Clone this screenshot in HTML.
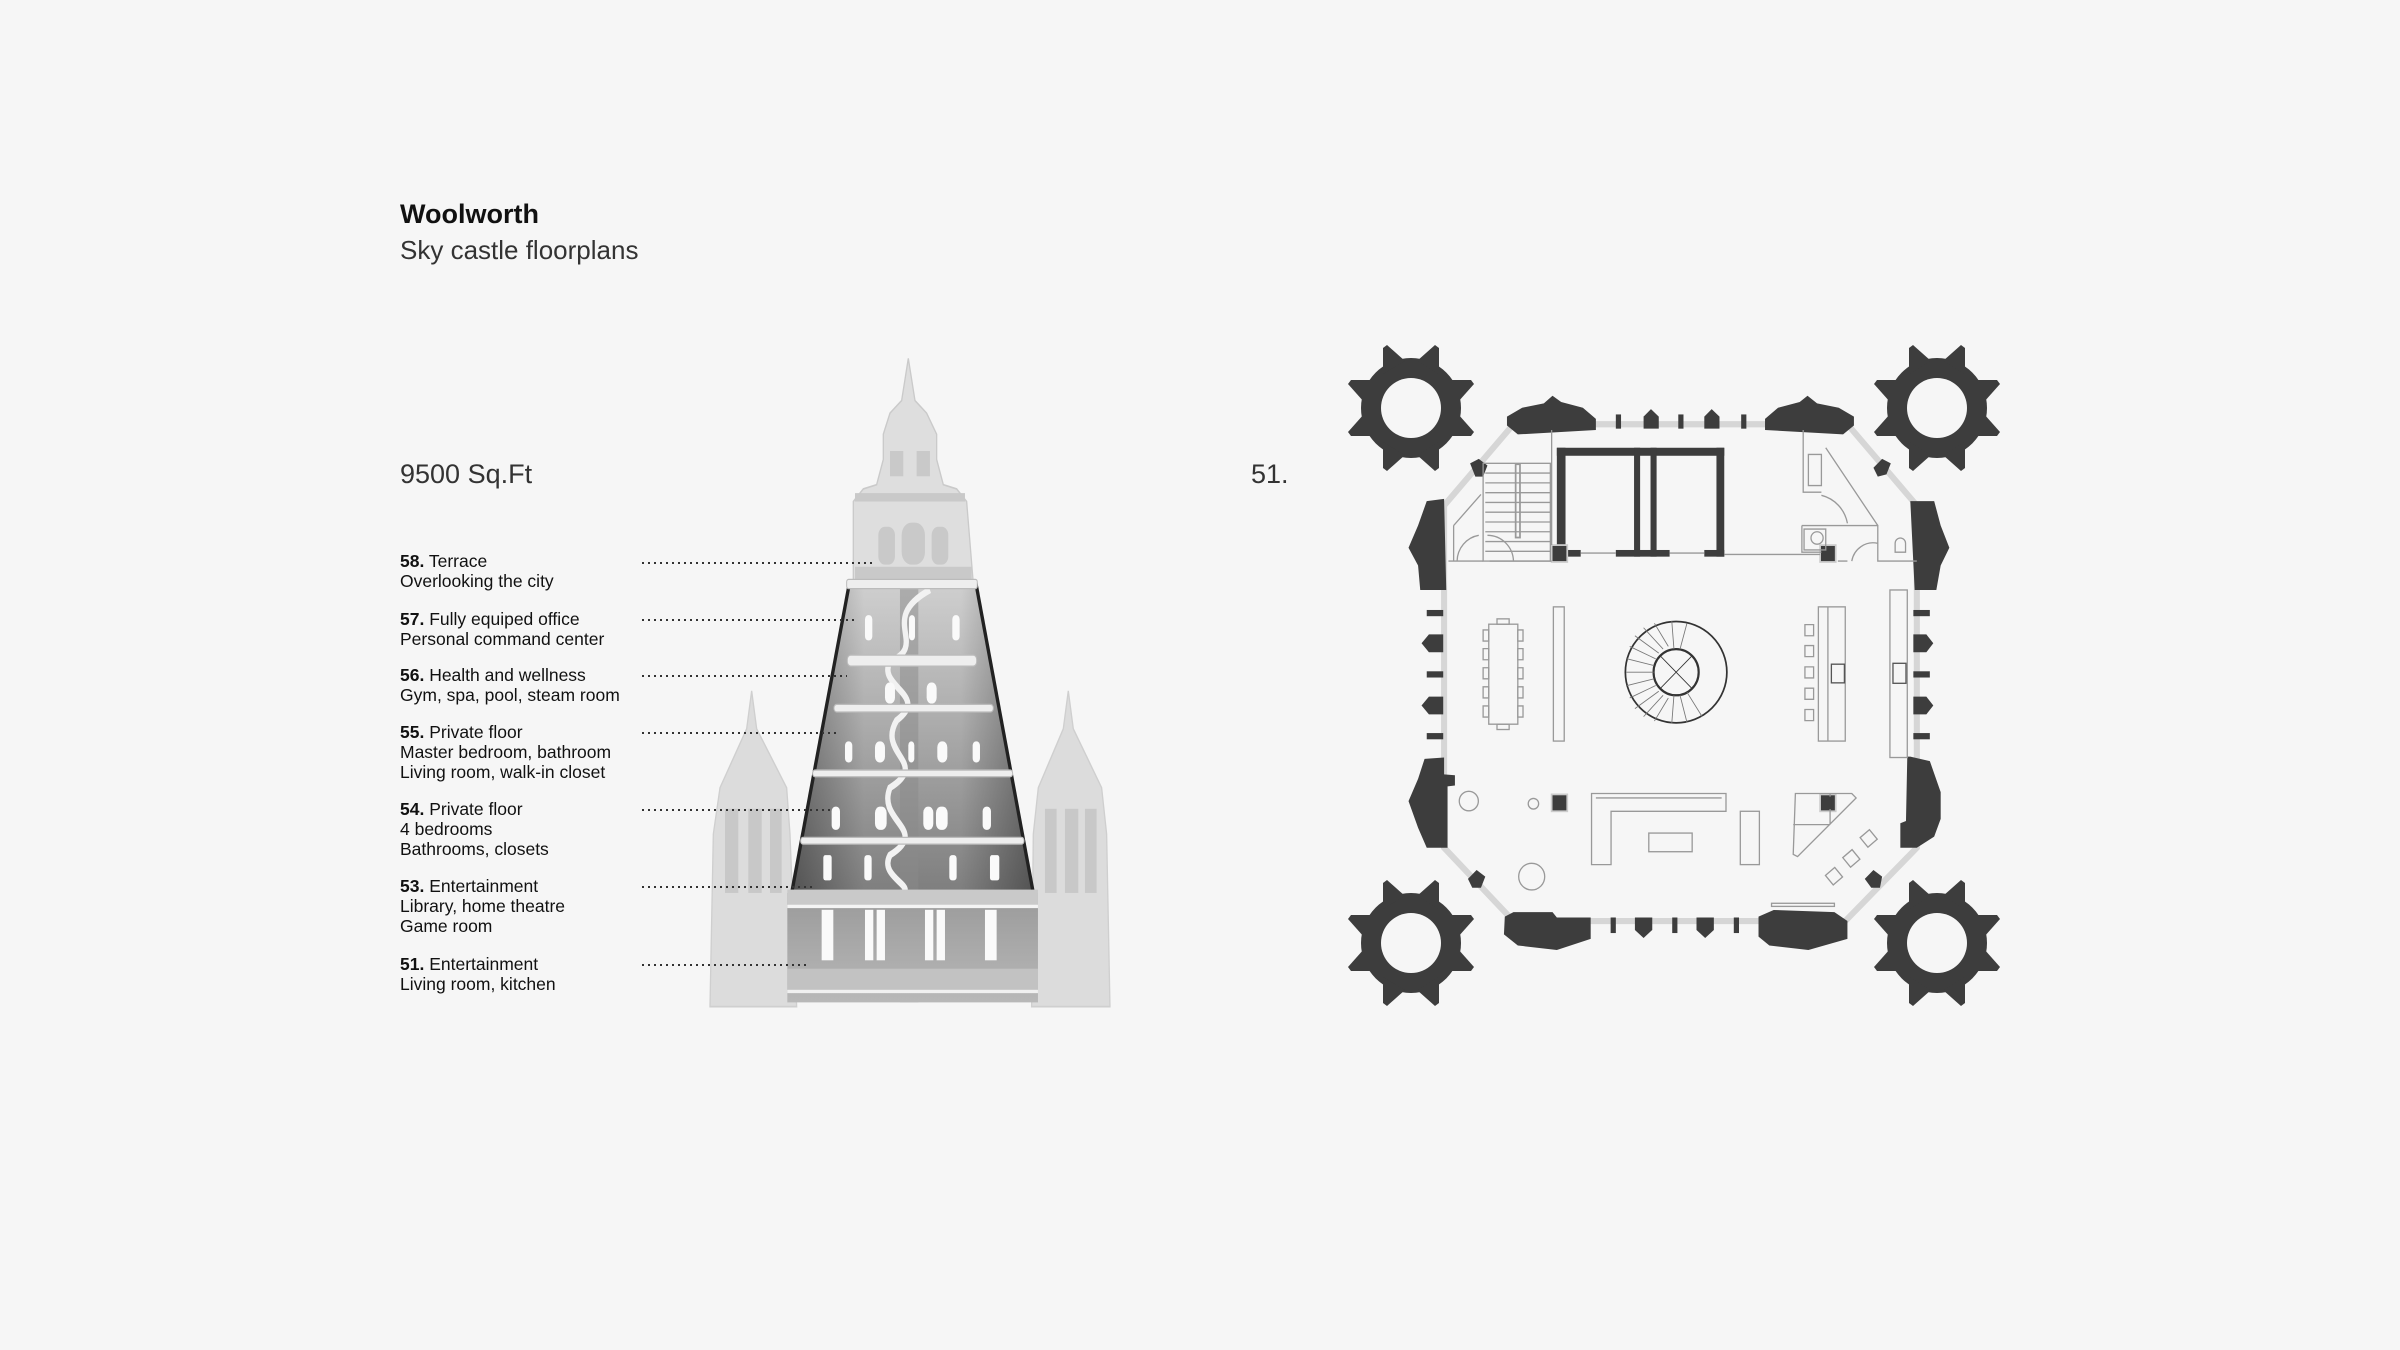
<!DOCTYPE html>
<html><head><meta charset="utf-8">
<style>
html,body{margin:0;padding:0;background:#f6f6f6;}
svg{display:block}
text{font-family:"Liberation Sans","DejaVu Sans",sans-serif;fill:#111}
</style></head>
<body>
<svg width="2400" height="1350" viewBox="0 0 2400 1350" xmlns="http://www.w3.org/2000/svg">
<defs>
<linearGradient id="body" x1="0" y1="0" x2="0" y2="1">
<stop offset="0" stop-color="#cfcfcf"/><stop offset="0.45" stop-color="#acacac"/><stop offset="1" stop-color="#7e7e7e"/>
</linearGradient>
<linearGradient id="bodyx" x1="0" y1="0" x2="1" y2="0">
<stop offset="0" stop-color="#000" stop-opacity="0.35"/><stop offset="0.3" stop-color="#000" stop-opacity="0"/><stop offset="0.7" stop-color="#000" stop-opacity="0"/><stop offset="1" stop-color="#000" stop-opacity="0.35"/>
</linearGradient>
<linearGradient id="base" x1="0" y1="0" x2="0" y2="1">
<stop offset="0" stop-color="#9a9a9a"/><stop offset="1" stop-color="#b8b8b8"/>
</linearGradient>
<g id="gear">
<circle r="50" fill="#3d3d3d"/>
<g fill="#3d3d3d">
<polygon points="-28,-34 -28,-60 -24,-63 -6,-47"/>
<polygon points="28,-34 28,-60 24,-63 6,-47"/>
<g transform="rotate(90)"><polygon points="-28,-34 -28,-60 -24,-63 -6,-47"/><polygon points="28,-34 28,-60 24,-63 6,-47"/></g>
<g transform="rotate(180)"><polygon points="-28,-34 -28,-60 -24,-63 -6,-47"/><polygon points="28,-34 28,-60 24,-63 6,-47"/></g>
<g transform="rotate(270)"><polygon points="-28,-34 -28,-60 -24,-63 -6,-47"/><polygon points="28,-34 28,-60 24,-63 6,-47"/></g>
</g>
<circle r="30" fill="#f6f6f6"/>
</g>
</defs>

<text x="400" y="223" font-size="27" font-weight="bold">Woolworth</text>
<text x="400" y="259" font-size="26" style="fill:#333">Sky castle floorplans</text>
<text x="400" y="483" font-size="27" style="fill:#333">9500 Sq.Ft</text>
<text x="1251" y="483" font-size="27" style="fill:#333">51.</text>

<g font-size="17.5">
<text x="400" y="567"><tspan font-weight="bold">58.</tspan> Terrace</text>
<text x="400" y="587">Overlooking the city</text>
<text x="400" y="625"><tspan font-weight="bold">57.</tspan> Fully equiped office</text>
<text x="400" y="645">Personal command center</text>
<text x="400" y="681"><tspan font-weight="bold">56.</tspan> Health and wellness</text>
<text x="400" y="701">Gym, spa, pool, steam room</text>
<text x="400" y="738"><tspan font-weight="bold">55.</tspan> Private floor</text>
<text x="400" y="758">Master bedroom, bathroom</text>
<text x="400" y="778">Living room, walk-in closet</text>
<text x="400" y="815"><tspan font-weight="bold">54.</tspan> Private floor</text>
<text x="400" y="835">4 bedrooms</text>
<text x="400" y="855">Bathrooms, closets</text>
<text x="400" y="892"><tspan font-weight="bold">53.</tspan> Entertainment</text>
<text x="400" y="912">Library, home theatre</text>
<text x="400" y="932">Game room</text>
<text x="400" y="970"><tspan font-weight="bold">51.</tspan> Entertainment</text>
<text x="400" y="990">Living room, kitchen</text>
</g>

<g transform="matrix(0.3333,0,0,0.4209,690,350)">
 <g fill="#dcdcdc" stroke="#cfcfcf" stroke-width="4">
  <path d="M185,810 L200,900 L290,1040 L300,1150 L320,1560 L60,1560 L70,1150 L90,1040 L170,900 Z"/>
  <path d="M1135,810 L1150,900 L1235,1040 L1250,1150 L1260,1560 L1025,1560 L1030,1150 L1045,1040 L1120,900 Z"/>
 </g>
 <g fill="#c8c8c8">
  <rect x="105" y="1090" width="40" height="200"/><rect x="175" y="1090" width="40" height="200"/><rect x="240" y="1090" width="35" height="200"/>
  <rect x="1065" y="1090" width="35" height="200"/><rect x="1125" y="1090" width="40" height="200"/><rect x="1185" y="1090" width="35" height="200"/>
 </g>
 <!-- cupola -->
 <g fill="#dedede" stroke="#cacaca" stroke-width="4">
  <path d="M490,555 L490,360 L520,330 L560,320 L580,260 L580,200 L600,150 L635,120 L645,70 L655,20 L665,70 L675,120 L710,150 L740,200 L740,260 L760,320 L800,330 L830,360 L850,555 Z"/>
 </g>
 <g fill="#c9c9c9">
  <rect x="565" y="420" width="50" height="90" rx="20"/><rect x="635" y="410" width="70" height="100" rx="30"/><rect x="725" y="420" width="50" height="90" rx="20"/>
  <rect x="600" y="240" width="40" height="60"/><rect x="680" y="240" width="40" height="60"/>
  <rect x="495" y="340" width="330" height="20"/><rect x="495" y="515" width="350" height="30"/>
 </g>
 <path d="M478,555 L858,555 L1030,1290 L305,1290 Z" fill="url(#body)"/>
 <path d="M478,555 L858,555 L1030,1290 L305,1290 Z" fill="url(#bodyx)"/>
 <path d="M478,555 L305,1290" stroke="#222" stroke-width="10" fill="none"/>
 <path d="M858,555 L1030,1290" stroke="#222" stroke-width="10" fill="none"/>
 <rect x="630" y="560" width="55" height="990" fill="#8a8a8a" opacity="0.5"/>
 <path d="M720,570 C560,640 720,700 600,740 C560,800 720,820 620,880 C560,960 720,980 600,1040 C560,1120 720,1140 600,1200 C560,1260 720,1280 600,1300 M720,1330 C560,1380 720,1420 600,1470" stroke="#f2f2f2" stroke-width="16" fill="none"/>
 <g fill="#fafafa">
  <rect x="525" y="630" width="22" height="60" rx="10"/><rect x="657" y="630" width="18" height="60" rx="9"/><rect x="787" y="630" width="22" height="60" rx="10"/>
  <rect x="710" y="790" width="30" height="50" rx="14"/><rect x="585" y="790" width="30" height="50" rx="14"/>
  <rect x="465" y="930" width="22" height="50" rx="10"/><rect x="555" y="930" width="30" height="50" rx="14"/><rect x="655" y="930" width="18" height="50" rx="9"/><rect x="742" y="930" width="30" height="50" rx="14"/><rect x="848" y="930" width="22" height="50" rx="10"/>
  <rect x="425" y="1085" width="25" height="55" rx="11"/><rect x="555" y="1085" width="35" height="55" rx="15"/><rect x="700" y="1085" width="30" height="55" rx="14"/><rect x="738" y="1085" width="35" height="55" rx="15"/><rect x="878" y="1085" width="25" height="55" rx="11"/>
  <rect x="400" y="1200" width="25" height="60" rx="6"/><rect x="523" y="1200" width="22" height="60" rx="8"/><rect x="778" y="1200" width="22" height="60" rx="8"/><rect x="900" y="1200" width="28" height="60" rx="6"/>
 </g>
 <g fill="#eeeeee" stroke="#bbb" stroke-width="3">
  <rect x="470" y="545" width="392" height="22" rx="6"/>
  <rect x="472" y="725" width="388" height="26" rx="10"/>
  <rect x="432" y="842" width="478" height="18" rx="8"/>
  <rect x="368" y="998" width="600" height="16" rx="7"/>
  <rect x="332" y="1158" width="670" height="16" rx="7"/>
 </g>
 <rect x="292" y="1290" width="752" height="260" fill="url(#base)"/>
 <rect x="292" y="1282" width="752" height="40" fill="#c9c9c9"/>
 <rect x="292" y="1318" width="752" height="8" fill="#f4f4f4"/>
 <g fill="#fafafa">
  <rect x="395" y="1330" width="35" height="120"/><rect x="525" y="1330" width="25" height="120"/><rect x="560" y="1330" width="25" height="120"/><rect x="705" y="1330" width="25" height="120"/><rect x="740" y="1330" width="25" height="120"/><rect x="885" y="1330" width="35" height="120"/>
 </g>
 <rect x="292" y="1470" width="752" height="50" fill="#c2c2c2"/>
 <rect x="292" y="1520" width="752" height="8" fill="#f0f0f0"/>
</g>

<g stroke="#333" stroke-width="2" stroke-dasharray="2,4" fill="none">
<line x1="642" y1="563" x2="873" y2="563"/>
<line x1="642" y1="620" x2="857" y2="620"/>
<line x1="642" y1="676" x2="847" y2="676"/>
<line x1="642" y1="733" x2="838" y2="733"/>
<line x1="642" y1="810" x2="833" y2="810"/>
<line x1="642" y1="887" x2="812" y2="887"/>
<line x1="642" y1="965" x2="807" y2="965"/>
</g>

<use href="#gear" x="1411" y="408"/>
<use href="#gear" x="1937" y="408"/>
<use href="#gear" x="1411" y="943"/>
<use href="#gear" x="1937" y="943"/>

<g transform="matrix(0.4337,0,0,0.4444,1340,330)">
 <polygon points="400,212 1170,212 1330,395 1330,1165 1165,1330 400,1330 240,1165 240,395" fill="none" stroke="#d6d6d6" stroke-width="14"/>
 <g fill="#3d3d3d">
  <path d="M385,195 L420,175 L470,165 L490,148 L510,162 L560,175 L590,200 L590,225 L410,235 L385,215 Z"/>
  <path d="M980,200 L1010,175 L1060,162 L1078,148 L1100,165 L1150,175 L1185,195 L1185,215 L1160,235 L980,225 Z"/>
  <rect x="636" y="190" width="12" height="32"/><rect x="780" y="190" width="12" height="32"/><rect x="925" y="190" width="12" height="32"/>
  <path d="M700,195 L717,178 L735,195 L735,222 L700,222 Z"/><path d="M840,195 L857,178 L875,195 L875,222 L840,222 Z"/>
  <path d="M380,1320 L400,1310 L490,1310 L500,1322 L578,1322 L578,1370 L500,1395 L410,1385 L378,1360 Z"/>
  <path d="M965,1320 L1000,1305 L1140,1310 L1170,1330 L1170,1370 L1080,1395 L990,1385 L965,1365 Z"/>
  <rect x="624" y="1322" width="12" height="35"/><rect x="766" y="1322" width="12" height="35"/><rect x="908" y="1322" width="12" height="35"/>
  <path d="M680,1322 L720,1322 L720,1350 L700,1368 L680,1350 Z"/><path d="M822,1322 L862,1322 L862,1350 L842,1368 L822,1350 Z"/>
  <path d="M200,385 L240,380 L245,585 L185,585 L180,530 L158,490 L180,440 Z"/>
  <path d="M195,965 L240,962 L240,1000 L265,1002 L265,1025 L248,1027 L248,1165 L200,1165 L180,1120 L158,1060 L180,1010 Z"/>
  <rect x="200" y="630" width="38" height="14"/><rect x="200" y="768" width="38" height="14"/><rect x="200" y="907" width="38" height="14"/>
  <path d="M238,685 L205,685 L188,705 L205,725 L238,725 Z"/><path d="M238,825 L205,825 L188,845 L205,865 L238,865 Z"/>
  <path d="M1315,385 L1370,385 L1385,440 L1405,490 L1385,530 L1375,585 L1325,585 Z"/>
  <path d="M1315,960 L1360,970 L1385,1040 L1385,1100 L1370,1140 L1330,1165 L1292,1165 L1292,1110 L1305,1105 L1308,960 Z"/>
  <rect x="1322" y="630" width="38" height="14"/><rect x="1322" y="768" width="38" height="14"/><rect x="1322" y="907" width="38" height="14"/>
  <path d="M1322,685 L1352,685 L1368,705 L1352,725 L1322,725 Z"/><path d="M1322,825 L1352,825 L1368,845 L1352,865 L1322,865 Z"/>
  <path d="M300,300 L320,290 L340,305 L330,330 L312,330 Z"/>
  <path d="M1230,310 L1250,290 L1270,300 L1260,325 L1240,330 Z"/>
  <path d="M295,1235 L315,1215 L335,1230 L325,1255 L305,1255 Z"/>
  <path d="M1210,1235 L1230,1215 L1250,1230 L1245,1255 L1225,1255 Z"/>
 </g>
 <g fill="#3d3d3d">
  <rect x="500" y="265" width="386" height="18"/>
  <rect x="500" y="265" width="20" height="245"/>
  <rect x="868" y="265" width="18" height="245"/>
  <rect x="678" y="265" width="14" height="245"/>
  <rect x="716" y="265" width="14" height="245"/>
  <rect x="520" y="495" width="35" height="15"/><rect x="636" y="495" width="124" height="15"/><rect x="840" y="495" width="46" height="15"/>
  <rect x="488" y="484" width="36" height="38" stroke="#ccc" stroke-width="4"/>
  <rect x="1107" y="484" width="36" height="38" stroke="#ccc" stroke-width="4"/>
  <rect x="488" y="1045" width="36" height="38" stroke="#ccc" stroke-width="4"/>
  <rect x="1107" y="1045" width="36" height="38" stroke="#ccc" stroke-width="4"/>
 </g>
 <g fill="none" stroke="#999" stroke-width="3">
  <line x1="555" y1="502" x2="636" y2="502"/><line x1="760" y1="502" x2="840" y2="502"/>
  <line x1="886" y1="505" x2="1107" y2="505"/>
  <line x1="488" y1="225" x2="488" y2="484"/>
  <rect x="330" y="300" width="155" height="220"/>
  <path d="M335,322 H485 M335,344 H485 M335,366 H485 M335,388 H485 M335,410 H485 M335,432 H485 M335,454 H485 M335,476 H485 M335,498 H485"/>
  <rect x="405" y="302" width="10" height="165" stroke-width="4"/>
  <path d="M262,440 L325,370 M262,440 L262,520 M270,520 A60,60 0 0 1 320,462 M400,520 A60,60 0 0 0 340,462 M250,520 H330 M345,520 H488"/>
  <path d="M1068,225 V365 H1110 M1080,280 H1110 V350 H1080 Z M1120,265 L1240,440 M1110,372 A80,80 0 0 1 1170,435 M1065,440 H1240 V520 H1330 M1065,440 V500 H1110 M1070,448 H1120 V495 H1070 Z M1180,520 A50,50 0 0 1 1240,480 M1148,520 H1170"/>
  <circle cx="1100" cy="468" r="14"/>
  <path d="M1280,500 V480 A12,12 0 0 1 1304,480 V500 Z"/>
  <rect x="343" y="662" width="67" height="225"/>
  <rect x="362" y="650" width="28" height="12"/><rect x="362" y="887" width="28" height="12"/>
  <path d="M330,675 h13 v25 h-13 z M330,717 h13 v25 h-13 z M330,760 h13 v25 h-13 z M330,803 h13 v25 h-13 z M330,846 h13 v25 h-13 z M410,675 h12 v25 h-12 z M410,717 h12 v25 h-12 z M410,760 h12 v25 h-12 z M410,803 h12 v25 h-12 z M410,846 h12 v25 h-12 z"/>
  <rect x="492" y="623" width="25" height="302"/>
  <rect x="1103" y="623" width="62" height="302"/><line x1="1125" y1="623" x2="1125" y2="925"/>
  <path d="M1072,663 h20 v25 h-20 z M1072,710 h20 v25 h-20 z M1072,758 h20 v25 h-20 z M1072,806 h20 v25 h-20 z M1072,854 h20 v25 h-20 z"/>
  <rect x="1133" y="752" width="30" height="42" stroke="#555"/>
  <rect x="1268" y="585" width="40" height="377"/>
  <rect x="1275" y="750" width="30" height="45" stroke="#555"/>
  <path d="M580,1043 H890 V1083 H625 V1203 H580 Z M590,1053 H880"/>
  <rect x="712" y="1132" width="100" height="42"/>
  <rect x="923" y="1083" width="44" height="120"/>
  <path d="M1050,1043 H1180 L1190,1053 L1055,1185 L1045,1180 Z M1045,1113 H1130 M1130,1043 V1113"/>
  <circle cx="297" cy="1060" r="22"/><circle cx="446" cy="1066" r="12"/><circle cx="442" cy="1230" r="30"/>
  <rect x="1205" y="1130" width="28" height="28" transform="rotate(-40 1219 1144)"/>
  <rect x="1165" y="1175" width="28" height="28" transform="rotate(-40 1179 1189)"/>
  <rect x="1125" y="1215" width="28" height="28" transform="rotate(-40 1139 1229)"/>
  <rect x="995" y="1290" width="145" height="7"/>
 </g>
 <g fill="#3d3d3d"><rect x="1110" y="1050" width="24" height="28"/></g>
 <g fill="none" stroke="#333">
  <ellipse cx="775" cy="770" rx="117" ry="114" stroke-width="4"/>
  <ellipse cx="775" cy="770" rx="52" ry="52" stroke-width="5"/>
  <path d="M738,733 L812,807 M812,733 L738,807" stroke-width="2"/>
  <g stroke="#777" stroke-width="2">
   <path d="M723,770 H660 M724,755 L662,740 M728,740 L668,712 M735,727 L680,688 M745,718 L700,670 M757,712 L725,660 M770,718 L765,655 M784,718 L800,660 M724,785 L662,800 M728,800 L668,828 M735,813 L680,852 M745,822 L700,870 M757,828 L725,880 M770,822 L765,885 M784,822 L800,883 M800,815 L835,870"/>
  </g>
 </g>
</g>
</svg>
</body></html>
